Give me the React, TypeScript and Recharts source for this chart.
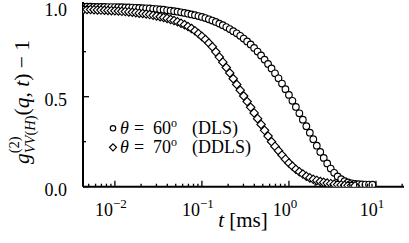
import React from 'react';
import { ComposedChart, Scatter, Line, XAxis, YAxis } from 'recharts';

// lag times (ms), log-spaced correlator channels
const T_MS = [
  0.004365, 0.004786, 0.005248, 0.005754, 0.00631, 0.006918, 0.007586, 0.008318, 0.00912,
  0.01, 0.01096, 0.01202, 0.01318, 0.01445, 0.01585, 0.01738, 0.01905, 0.02089, 0.02291, 0.02512,
  0.02754, 0.0302, 0.03311, 0.03631, 0.03981, 0.04365, 0.04786, 0.05248, 0.05754, 0.0631, 0.06918,
  0.07586, 0.08318, 0.0912,
  0.1, 0.1096, 0.1202, 0.1318, 0.1445, 0.1585, 0.1738, 0.1905, 0.2089, 0.2291, 0.2512, 0.2754,
  0.302, 0.3311, 0.3631, 0.3981, 0.4365, 0.4786, 0.5248, 0.5754, 0.631, 0.6918, 0.7586, 0.8318, 0.912,
  1.0, 1.096, 1.202, 1.318, 1.445, 1.585, 1.738, 1.905, 2.089, 2.291, 2.512, 2.754, 3.02, 3.311,
  3.631, 3.981, 4.365, 4.786, 5.248, 5.754, 6.31, 6.918, 7.586, 8.318, 9.12,
];

// theta = 60 deg (DLS), circles
const G_DLS = [
  1.0, 1.0, 1.0, 0.999, 0.999, 0.999, 0.999, 0.998, 0.998, 0.998,
  0.997, 0.997, 0.996, 0.996, 0.995, 0.994, 0.993, 0.992, 0.991, 0.99,
  0.988, 0.987, 0.985, 0.983, 0.98, 0.978, 0.975, 0.972, 0.969, 0.965,
  0.961, 0.957, 0.953, 0.948, 0.943, 0.937, 0.93, 0.923, 0.915, 0.906,
  0.897, 0.887, 0.876, 0.864, 0.852, 0.838, 0.823, 0.807, 0.79, 0.771,
  0.751, 0.729, 0.706, 0.682, 0.657, 0.63, 0.602, 0.573, 0.542, 0.51,
  0.477, 0.443, 0.408, 0.372, 0.336, 0.3, 0.264, 0.228, 0.193, 0.16,
  0.129, 0.101, 0.077, 0.057, 0.042, 0.031, 0.024, 0.019, 0.016, 0.014,
  0.013, 0.012, 0.012, 0.011,
];

// theta = 70 deg (DDLS), diamonds
const G_DDLS = [
  0.985, 0.984, 0.984, 0.983, 0.982, 0.981, 0.98, 0.979, 0.978, 0.977,
  0.976, 0.974, 0.973, 0.971, 0.969, 0.967, 0.964, 0.962, 0.959, 0.956,
  0.952, 0.948, 0.944, 0.94, 0.935, 0.929, 0.923, 0.916, 0.908, 0.9,
  0.89, 0.879, 0.866, 0.851, 0.835, 0.818, 0.798, 0.777, 0.749, 0.72,
  0.692, 0.662, 0.632, 0.6, 0.568, 0.536, 0.504, 0.473, 0.441, 0.41,
  0.378, 0.346, 0.313, 0.281, 0.25, 0.224, 0.2, 0.176, 0.153, 0.132,
  0.114, 0.097, 0.083, 0.07, 0.058, 0.049, 0.041, 0.035, 0.029, 0.024,
  0.02, 0.017, 0.014, 0.012, 0.01, 0.008, 0.007, 0.006, 0.005,
];

const X_MAJOR_TICKS = [0.01, 0.1, 1, 10];
const X_MAJOR_EXPONENTS = ['\u22122', '\u22121', '0', '1'];
const X_MINOR_TICKS = [
  0.005, 0.006, 0.007, 0.008, 0.009,
  0.02, 0.03, 0.04, 0.05, 0.06, 0.07, 0.08, 0.09,
  0.2, 0.3, 0.4, 0.5, 0.6, 0.7, 0.8, 0.9,
  2, 3, 4, 5, 6, 7, 8, 9, 20,
];
const Y_TICKS = [0, 0.25, 0.5, 0.75, 1.0];
const Y_TICK_LABELS = ['0.0', '', '0.5', '', '1.0'];
const LEGEND_ANGLES = ['60', '70'];
const LEGEND_METHODS = ['(DLS)', '(DDLS)'];

const X_DOMAIN: [number, number] = [0.0043, 21];
const Y_DOMAIN: [number, number] = [0, 1.026];

const dlsData = G_DLS.map((g, i) => ({ t: T_MS[i], g }));
const ddlsData = G_DDLS.map((g, i) => ({ t: T_MS[i], g }));
const X_TICKS = [...X_MINOR_TICKS, ...X_MAJOR_TICKS].sort((a, b) => a - b);

const SERIF: React.CSSProperties = { fontFamily: "'Liberation Serif', serif" };
const MAJOR_LEN = 6;
const MINOR_LEN = 3;

const BottomTick = (p: any) => {
  const v = p.payload.value;
  const mi = X_MAJOR_TICKS.indexOf(v);
  const len = mi >= 0 ? MAJOR_LEN : MINOR_LEN;
  return (
    <g>
      <line x1={p.x} x2={p.x} y1={p.y} y2={p.y - len} stroke="#000" strokeWidth={1.3} />
      {mi >= 0 && (
        <text x={p.x - 4} y={p.y + 29} textAnchor="middle" style={SERIF} fontSize={18} fill="#000">
          10
          <tspan dy={-8} fontSize={13}>{X_MAJOR_EXPONENTS[mi]}</tspan>
        </text>
      )}
    </g>
  );
};

const TopTick = (p: any) => {
  const v = p.payload.value;
  const len = X_MAJOR_TICKS.indexOf(v) >= 0 ? MAJOR_LEN : MINOR_LEN;
  return <line x1={p.x} x2={p.x} y1={p.y} y2={p.y + len} stroke="#000" strokeWidth={1.3} />;
};

const LeftTick = (p: any) => {
  const v = p.payload.value;
  const i = Y_TICKS.indexOf(v);
  const label = i >= 0 ? Y_TICK_LABELS[i] : '';
  const len = label ? MAJOR_LEN : MINOR_LEN;
  return (
    <g>
      <line x1={p.x} x2={p.x + len} y1={p.y} y2={p.y} stroke="#000" strokeWidth={1.3} />
      {label && (
        <text x={p.x - 16} y={p.y + 9} textAnchor="end" style={SERIF} fontSize={18} fill="#000">
          {label}
        </text>
      )}
    </g>
  );
};

const RightTick = (p: any) => {
  const v = p.payload.value;
  const i = Y_TICKS.indexOf(v);
  const len = i >= 0 && Y_TICK_LABELS[i] ? MAJOR_LEN : MINOR_LEN;
  return <line x1={p.x} x2={p.x - len} y1={p.y} y2={p.y} stroke="#000" strokeWidth={1.3} />;
};

const CircleMark = (p: any) =>
  p.cx == null ? <g /> : (
    <circle cx={p.cx} cy={p.cy} r={3.3} fill="#fff" stroke="#000" strokeWidth={1.15} />
  );

const DiamondMark = (p: any) => {
  if (p.cx == null) return <g />;
  const s = 4.2;
  return (
    <polygon
      points={`${p.cx},${p.cy - s} ${p.cx + s},${p.cy} ${p.cx},${p.cy + s} ${p.cx - s},${p.cy}`}
      fill="#fff"
      stroke="#000"
      strokeWidth={1.15}
    />
  );
};

const axisLine = { stroke: '#000', strokeWidth: 2 };

export default function App() {
  return (
    <div style={{ position: 'absolute', left: 0, top: 0, width: 409, height: 243, background: '#fff' }}>
      <ComposedChart width={409} height={243} margin={{ top: 2, right: 5, bottom: 0, left: 0 }}>
        <XAxis
          xAxisId="b"
          dataKey="t"
          type="number"
          scale="log"
          domain={X_DOMAIN}
          allowDataOverflow
          ticks={X_TICKS}
          interval={0}
          tick={BottomTick}
          tickLine={false}
          tickSize={0}
          tickMargin={0}
          axisLine={axisLine}
          height={56.3}
        />
        <XAxis
          xAxisId="top"
          orientation="top"
          dataKey="t"
          type="number"
          scale="log"
          domain={X_DOMAIN}
          allowDataOverflow
          ticks={X_TICKS}
          interval={0}
          tick={TopTick}
          tickLine={false}
          tickSize={0}
          tickMargin={0}
          axisLine={axisLine}
          height={0}
        />
        <YAxis
          yAxisId="l"
          dataKey="g"
          type="number"
          domain={Y_DOMAIN}
          allowDataOverflow
          ticks={Y_TICKS}
          interval={0}
          tick={LeftTick}
          tickLine={false}
          tickSize={0}
          tickMargin={0}
          axisLine={axisLine}
          width={83}
        />
        <YAxis
          yAxisId="r"
          orientation="right"
          dataKey="g"
          type="number"
          domain={Y_DOMAIN}
          allowDataOverflow
          ticks={Y_TICKS}
          interval={0}
          tick={RightTick}
          tickLine={false}
          tickSize={0}
          tickMargin={0}
          axisLine={axisLine}
          width={0}
        />
        <Line
          xAxisId="top"
          yAxisId="r"
          data={dlsData}
          dataKey="g"
          stroke="none"
          dot={false}
          isAnimationActive={false}
        />
        <Scatter
          xAxisId="b"
          yAxisId="l"
          data={dlsData}
          dataKey="g"
          shape={CircleMark}
          isAnimationActive={false}
        />
        <Scatter
          xAxisId="b"
          yAxisId="l"
          data={ddlsData}
          dataKey="g"
          shape={DiamondMark}
          isAnimationActive={false}
        />
        <Line
          xAxisId="b"
          yAxisId="l"
          data={dlsData}
          dataKey="g"
          type="linear"
          stroke="#000"
          strokeWidth={1.5}
          dot={false}
          isAnimationActive={false}
        />
        <Line
          xAxisId="b"
          yAxisId="l"
          data={ddlsData}
          dataKey="g"
          type="linear"
          stroke="#000"
          strokeWidth={1.5}
          dot={false}
          isAnimationActive={false}
        />
      </ComposedChart>
      <svg
        width={409}
        height={243}
        style={{ position: 'absolute', left: 0, top: 0, pointerEvents: 'none' }}
      >
        <g fill="#000">
          <text transform="translate(29,102) rotate(-90)" textAnchor="middle" style={SERIF} fontSize={21.5}>
            <tspan fontStyle="italic">g</tspan>
            <tspan fontSize={14.5} dy={-10}>(2)</tspan>
            <tspan fontSize={14.5} dx={-16.9} dy={15.5} fontStyle="italic">VV</tspan>
            <tspan fontSize={14.5}>(</tspan>
            <tspan fontSize={14.5} fontStyle="italic">H</tspan>
            <tspan fontSize={14.5}>)</tspan>
            <tspan dy={-5.5}>(</tspan>
            <tspan fontStyle="italic">q</tspan>
            <tspan>, </tspan>
            <tspan fontStyle="italic">t</tspan>
            <tspan>) {'\u2212'} 1</tspan>
          </text>
          <text x={243} y={227} textAnchor="middle" style={SERIF} fontSize={21}>
            <tspan fontStyle="italic">t</tspan>
            <tspan> [ms]</tspan>
          </text>
          {LEGEND_ANGLES.map((ang, i) => {
            const base = i === 0 ? 133.5 : 153;
            const cy = i === 0 ? 128.3 : 147.3;
            return (
              <g key={ang}>
                {i === 0 ? (
                  <circle cx={113} cy={cy} r={2.7} fill="#fff" stroke="#000" strokeWidth={1.2} />
                ) : (
                  <polygon
                    points={`113,${cy - 3.5} 116.5,${cy} 113,${cy + 3.5} 109.5,${cy}`}
                    fill="#fff"
                    stroke="#000"
                    strokeWidth={1.2}
                  />
                )}
                <text y={base} style={SERIF} fontSize={18}>
                  <tspan x={120} fontStyle="italic">{'\u03b8'}</tspan>
                  <tspan x={134}>=</tspan>
                  <tspan x={153}>{ang}</tspan>
                  <tspan x={171} dy={-7} fontSize={12}>o</tspan>
                  <tspan x={192} dy={7}>{LEGEND_METHODS[i]}</tspan>
                </text>
              </g>
            );
          })}
        </g>
      </svg>
    </div>
  );
}
